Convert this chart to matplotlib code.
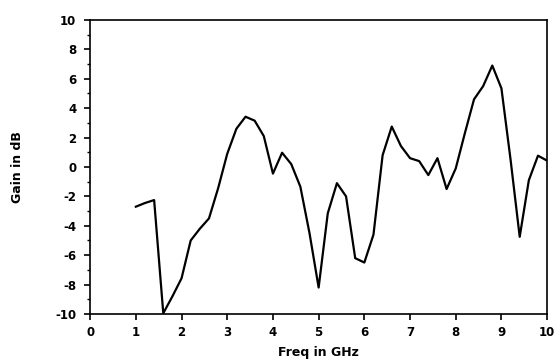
import numpy as np
import matplotlib
matplotlib.use('Agg')
import matplotlib.pyplot as plt
from matplotlib.ticker import MultipleLocator

# Gain vs frequency
freq = [1.0, 1.2, 1.4, 1.6, 1.8, 2.0, 2.2, 2.4, 2.6, 2.8,
        3.0, 3.2, 3.4, 3.6, 3.8, 4.0, 4.2, 4.4, 4.6, 4.8,
        5.0, 5.2, 5.4, 5.6, 5.8, 6.0, 6.2, 6.4, 6.6, 6.8,
        7.0, 7.2, 7.4, 7.6, 7.8, 8.0, 8.2, 8.4, 8.6, 8.8,
        9.0, 9.2, 9.4, 9.6, 9.8, 10.0]
gain = [-2.7, -2.45, -2.25, -9.95, -8.8, -7.57, -5.0, -4.2, -3.5, -1.45,
        0.9, 2.6, 3.42, 3.15, 2.1, -0.45, 0.97, 0.2, -1.34, -4.5,
        -8.2, -3.15, -1.1, -2.0, -6.2, -6.5, -4.6, 0.8, 2.75, 1.43,
        0.6, 0.4, -0.55, 0.6, -1.5, -0.1, 2.3, 4.6, 5.5, 6.9,
        5.35, 0.5, -4.75, -0.9, 0.77, 0.43]

plt.rcParams['font.family'] = ['DejaVu Sans']
plt.rcParams['font.weight'] = 'bold'
plt.rcParams['axes.unicode_minus'] = False

fig = plt.figure(figsize=(5.6, 3.62), dpi=100)
ax = fig.add_axes([0.161, 0.1326, 0.816, 0.8122])

ax.plot(freq, gain, color='black', linewidth=1.6)

ax.set_xlim(0, 10)
ax.set_ylim(-10, 10)
ax.xaxis.set_major_locator(MultipleLocator(1))
ax.yaxis.set_major_locator(MultipleLocator(2))
ax.yaxis.set_minor_locator(MultipleLocator(1))
ax.tick_params(axis='both', which='major', direction='out', length=4, width=1.2,
               labelsize=8.5)
ax.tick_params(axis='x', which='major', pad=5)
ax.tick_params(axis='y', which='major', pad=6)
ax.tick_params(axis='y', which='minor', direction='out', length=2.5, width=1.0)
for lbl in ax.get_xticklabels() + ax.get_yticklabels():
    lbl.set_fontweight('bold')
for s in ax.spines.values():
    s.set_linewidth(1.2)

ax.set_xlabel('Freq in GHz', fontsize=9, fontweight='bold')
ax.set_ylabel('Gain in dB', fontsize=9, fontweight='bold')
ax.xaxis.set_label_coords(0.5, -0.11)
ax.yaxis.set_label_coords(-0.145, 0.5)

fig.savefig('out.png', dpi=100)
